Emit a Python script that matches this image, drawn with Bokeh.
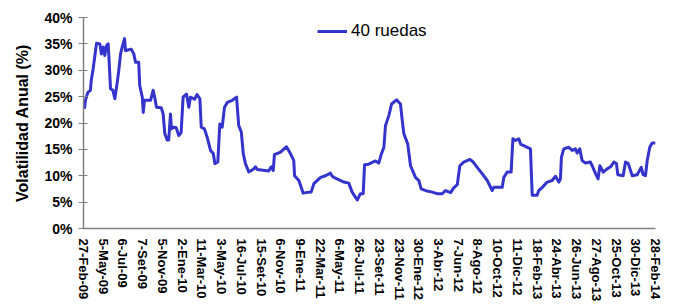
from bokeh.plotting import figure
from bokeh.models import Range1d, FixedTicker, Legend, LegendItem
from bokeh.embed import file_html
from bokeh.resources import INLINE

# Category tick labels (one every ~42 trading days)
tick_labels = [
    "27-Feb-09", "5-May-09", "6-Jul-09", "7-Set-09", "5-Nov-09", "2-Ene-10",
    "11-Mar-10", "3-May-10", "16-Jul-10", "15-Set-10", "6-Nov-10", "9-Ene-11",
    "22-Mar-11", "6-May-11", "26-Jul-11", "23-Set-11", "23-Nov-11", "30-Ene-12",
    "3-Abr-12", "7-Jun-12", "8-Ago-12", "10-Oct-12", "11-Dic-12", "18-Feb-13",
    "24-Abr-13", "26-Jun-13", "27-Ago-13", "25-Oct-13", "30-Dic-13", "28-Feb-14",
]

# Position along the category axis (in tick-label units) and 40-day volatility (%)
x_pos = [
    0.05, 0.10, 0.22, 0.35, 0.39, 0.49, 0.61, 0.66, 0.83, 0.91, 1.00, 1.08, 1.17, 1.25, 1.28,
    1.37, 1.49, 1.59, 1.71, 1.79, 1.88, 1.96, 2.08, 2.13, 2.30, 2.42, 2.55, 2.64, 2.80, 2.85,
    2.98, 3.03, 3.09, 3.19, 3.40, 3.53, 3.61, 3.70, 3.94, 4.04, 4.12, 4.24, 4.32, 4.41, 4.46,
    4.58, 4.70, 4.83, 4.95, 5.05, 5.22, 5.34, 5.42, 5.63, 5.76, 5.90, 5.97, 6.13, 6.27, 6.44,
    6.58, 6.66, 6.81, 6.91, 7.03, 7.15, 7.29, 7.54, 7.76, 7.87, 8.00, 8.10, 8.21, 8.38, 8.63,
    8.72, 8.81, 9.39, 9.52, 9.62, 9.68, 9.99, 10.29, 10.49, 10.66, 10.70, 10.92, 11.14, 11.26,
    11.54, 11.68, 12.02, 12.27, 12.52, 12.61, 12.69, 13.20, 13.45, 13.62, 13.88, 14.04, 14.18,
    14.25, 14.46, 14.80, 14.97, 15.09, 15.23, 15.31, 15.48, 15.62, 15.87, 16.07, 16.16, 16.24,
    16.44, 16.58, 16.83, 17.00, 17.12, 17.42, 17.68, 17.93, 18.19, 18.35, 18.61, 18.77, 18.95,
    19.08, 19.28, 19.59, 19.76, 19.96, 20.21, 20.47, 20.72, 20.80, 21.23, 21.31, 21.48, 21.68,
    21.77, 21.90, 22.07, 22.16, 22.32, 22.66, 22.75, 23.00, 23.08, 23.26, 23.51, 23.76, 23.93,
    24.10, 24.18, 24.23, 24.35, 24.60, 24.78, 24.94, 25.03, 25.16, 25.28, 25.45, 25.70, 25.79,
    25.96, 26.09, 26.18, 26.35, 26.55, 26.72, 26.89, 27.02, 27.09, 27.36, 27.48, 27.62, 27.82,
    28.07, 28.28, 28.37, 28.49, 28.58, 28.71, 28.83, 29.00,
]
vol_40 = [
    22.7, 24.3, 25.8, 26.2, 28.0, 30.3, 33.7, 35.1, 35.0, 33.1, 34.4, 32.8, 34.7, 35.0, 33.1,
    26.5, 26.2, 24.6, 27.7, 30.0, 33.1, 34.4, 36.0, 33.7, 33.9, 34.0, 33.1, 31.5, 31.5, 27.1,
    24.9, 22.0, 24.3, 24.3, 24.3, 26.2, 24.9, 23.0, 22.9, 21.7, 18.0, 16.8, 16.8, 21.7, 18.9,
    19.2, 19.1, 17.6, 18.2, 24.9, 25.5, 23.0, 24.9, 24.5, 25.4, 24.6, 19.2, 18.9, 17.3, 14.8,
    14.2, 12.3, 12.6, 19.8, 19.2, 23.0, 23.9, 24.3, 24.9, 19.5, 18.3, 14.2, 12.3, 10.7, 11.3,
    11.7, 11.2, 10.9, 11.7, 11.0, 14.0, 14.5, 15.5, 14.2, 12.9, 10.0, 9.1, 6.7, 6.8,
    6.9, 8.5, 9.7, 10.0, 10.5, 9.9, 9.7, 8.8, 8.6, 6.9, 5.4, 6.6, 6.6,
    12.1, 12.2, 12.8, 12.4, 14.0, 15.4, 19.5, 21.4, 23.6, 24.4, 23.6, 20.5, 18.0,
    16.0, 11.9, 9.7, 9.1, 7.5, 7.1, 6.9, 6.6, 6.6, 7.2, 6.8, 7.7, 8.3,
    11.9, 12.6, 13.1, 12.6, 11.6, 10.4, 9.1, 7.2, 7.8, 7.8, 9.7, 10.7, 10.7,
    17.0, 16.7, 17.0, 16.0, 15.7, 15.1, 6.3, 6.3, 7.2, 7.8, 8.8, 9.1, 9.9,
    8.8, 9.4, 13.5, 15.1, 15.4, 14.8, 15.1, 14.3, 15.1, 12.9, 12.4, 12.6, 11.9,
    10.4, 9.4, 11.9, 10.7, 11.3, 11.7, 12.6, 12.3, 10.2, 10.0, 12.6, 12.3, 10.0,
    10.2, 11.6, 10.2, 10.0, 12.9, 15.4, 16.2, 16.2,
]

y_ticks = [0, 5, 10, 15, 20, 25, 30, 35, 40]
y_tick_labels = ["0%", "5%", "10%", "15%", "20%", "25%", "30%", "35%", "40%"]

FONT = "Liberation Sans"
AXIS_GRAY = "#808080"
LINE_BLUE = "#3434CC"

p = figure(
    width=673, height=307,
    output_backend="svg", toolbar_location=None,
    x_range=Range1d(0, len(tick_labels) - 1), y_range=Range1d(0, 40),
    min_border_left=83, min_border_right=18, min_border_top=17, min_border_bottom=79,
)
p.outline_line_color = None
p.xgrid.visible = False
p.ygrid.visible = False
p.background_fill_color = "white"
p.border_fill_color = "white"

r = p.line(x_pos, vol_40, line_color=LINE_BLUE, line_width=3, line_join="round")

# y axis
p.yaxis.ticker = FixedTicker(ticks=y_ticks, minor_ticks=[])
p.yaxis.major_label_overrides = {t: l for t, l in zip(y_ticks, y_tick_labels)}
p.yaxis.axis_label = "Volatilidad Anual (%)"
p.yaxis.axis_label_text_font = FONT
p.yaxis.axis_label_text_font_style = "bold"
p.yaxis.axis_label_text_font_size = "16px"
p.yaxis.axis_label_text_color = "black"
p.yaxis.axis_label_standoff = 10
p.yaxis.major_label_text_font = FONT
p.yaxis.major_label_text_font_style = "bold"
p.yaxis.major_label_text_font_size = "14px"
p.yaxis.major_label_text_color = "black"
p.yaxis.major_label_standoff = 6
p.yaxis.major_tick_out = 5
p.yaxis.major_tick_in = 4
p.yaxis.minor_tick_line_color = None
p.yaxis.axis_line_color = AXIS_GRAY
p.yaxis.major_tick_line_color = AXIS_GRAY
p.yaxis.axis_line_width = 1.5

# x axis (category style)
p.xaxis.ticker = FixedTicker(ticks=list(range(len(tick_labels))), minor_ticks=[])
p.xaxis.major_label_overrides = {i: l for i, l in enumerate(tick_labels)}
p.xaxis.major_label_orientation = "vertical"
p.xaxis.major_label_text_font = FONT
p.xaxis.major_label_text_font_style = "bold"
p.xaxis.major_label_text_font_size = "13px"
p.xaxis.major_label_text_color = "black"
p.xaxis.major_label_standoff = 10
p.xaxis.major_tick_out = 0
p.xaxis.major_tick_in = 0
p.xaxis.minor_tick_line_color = None
p.xaxis.axis_line_color = AXIS_GRAY
p.xaxis.axis_line_width = 1.5

legend = Legend(
    items=[LegendItem(label="40 ruedas", renderers=[r])],
    location=(234, 187),
    border_line_color=None, background_fill_alpha=0,
    padding=0, margin=0, spacing=0,
    glyph_width=30, glyph_height=16, label_height=16, label_standoff=4,
    label_text_font=FONT, label_text_font_size="17px", label_text_color="black",
)
p.add_layout(legend)

open("out.html", "w").write(file_html(p, INLINE))
